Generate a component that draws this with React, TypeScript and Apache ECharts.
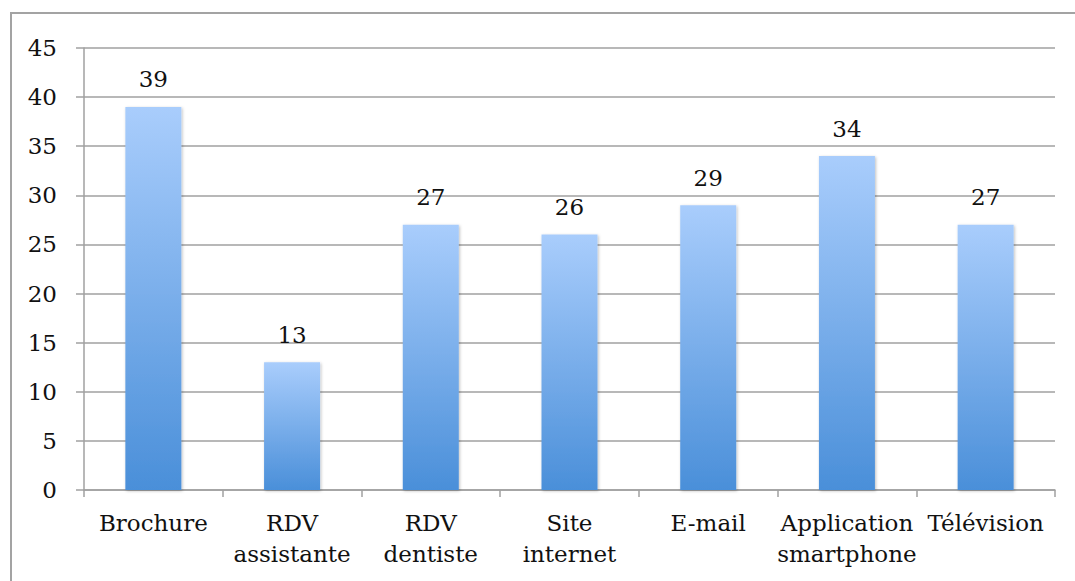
import React, { useEffect, useRef } from "react";
import * as echarts from "echarts";

const categories = [
  "Brochure",
  "RDV\nassistante",
  "RDV\ndentiste",
  "Site\ninternet",
  "E-mail",
  "Application\nsmartphone",
  "Télévision",
];
const values = [39, 13, 27, 26, 29, 34, 27];
const yMin = 0;
const yMax = 45;
const yInterval = 5;

const FONT = "DejaVu Serif";

export default function App() {
  const ref = useRef<HTMLDivElement>(null);
  useEffect(() => {
    if (!ref.current) return;
    const chart = echarts.init(ref.current, undefined, { renderer: "svg" });
    chart.setOption({
      animation: false,
      backgroundColor: "#ffffff",
      textStyle: { fontFamily: FONT },
      graphic: [
        {
          type: "rect",
          shape: { x: 11, y: 13, width: 1200, height: 700 },
          style: { fill: "none", stroke: "#a3a3a3", lineWidth: 2 },
          silent: true,
          z: -10,
        },
      ],
      grid: { left: 84, right: 20, top: 48, bottom: 91, containLabel: false },
      xAxis: {
        type: "category",
        data: categories,
        axisLine: { show: true, lineStyle: { color: "#a0a0a0", width: 1.5 } },
        axisTick: { show: true, length: 7, lineStyle: { color: "#a0a0a0", width: 1.5 } },
        axisLabel: {
          color: "#111",
          fontFamily: FONT,
          fontSize: 23,
          lineHeight: 31,
          margin: 17,
          interval: 0,
        },
      },
      yAxis: {
        type: "value",
        min: yMin,
        max: yMax,
        interval: yInterval,
        axisLine: { show: true, lineStyle: { color: "#a0a0a0", width: 1.5 } },
        axisTick: { show: true, length: 8, lineStyle: { color: "#a0a0a0", width: 1.5 } },
        splitLine: { show: true, lineStyle: { color: "#a0a0a0", width: 1.5 } },
        axisLabel: {
          color: "#111",
          fontFamily: FONT,
          fontSize: 23,
          margin: 27,
        },
      },
      series: [
        {
          type: "bar",
          data: values,
          barWidth: 56,
          itemStyle: {
            color: new echarts.graphic.LinearGradient(0, 0, 0, 1, [
              { offset: 0, color: "#a9cdfc" },
              { offset: 1, color: "#4a8fd9" },
            ]),
            shadowBlur: 3,
            shadowColor: "rgba(0,0,0,0.25)",
            shadowOffsetX: 1,
            shadowOffsetY: 1,
          },
          label: {
            show: true,
            position: "top",
            distance: 16,
            color: "#111",
            fontFamily: FONT,
            fontSize: 23,
          },
        },
      ],
    });
    return () => chart.dispose();
  }, []);
  return (
    <div
      ref={ref}
      style={{ position: "fixed", left: 0, top: 0, width: 1075, height: 581 }}
    />
  );
}
